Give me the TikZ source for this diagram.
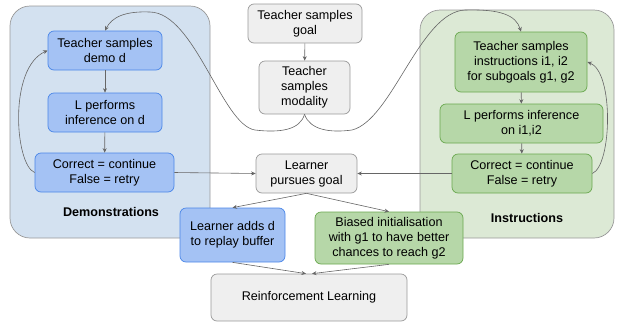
\documentclass[tikz,border=0pt]{standalone}
\usepackage{fontspec}
\setmainfont{Liberation Sans}
\usetikzlibrary{arrows.meta}

\definecolor{bleufond}{HTML}{D3E1F0}
\definecolor{bleuboite}{HTML}{A4C2F4}
\definecolor{bleubord}{HTML}{4A86E8}
\definecolor{vertfond}{HTML}{DCE9D5}
\definecolor{vertboite}{HTML}{B6D7A8}
\definecolor{vertbord}{HTML}{6AA84F}
\definecolor{grisboite}{HTML}{EFEFEF}
\definecolor{grisbord}{HTML}{999999}
\definecolor{trait}{HTML}{666666}

\tikzset{
  boite/.style={draw, rounded corners=6pt, align=center, inner sep=2pt,
    font=\fontsize{12.6}{15}\selectfont, line width=0.7pt},
  bleu/.style={boite, fill=bleuboite, draw=bleubord},
  vert/.style={boite, fill=vertboite, draw=vertbord},
  gris/.style={boite, fill=grisboite, draw=grisbord},
  groupe/.style={draw=grisbord, rounded corners=20pt, line width=0.7pt},
  titre/.style={font=\fontsize{12.6}{15}\selectfont\bfseries},
  fleche/.style={draw=trait, line width=0.6pt, -{Stealth[length=4.5pt,width=4pt]}}
}

\begin{document}
\begin{tikzpicture}[x=1pt, y=-1pt]
  \useasboundingbox (0,0) rectangle (621,322);

  % Les fonds
  \draw[groupe, fill=bleufond] (10,6) rectangle (210,238);
  \draw[groupe, fill=vertfond] (420,10) rectangle (614,238);
  \node[titre] (demos) at (111,212) {Demonstrations};
  \node[titre] (instrs) at (527,218) {Instructions};

  % Le centre
  \node[gris, minimum width=114pt, minimum height=39pt] (goal) at (305,23.5) {Teacher samples\\goal};
  \node[gris, minimum width=91pt, minimum height=53pt] (modality) at (304.5,87.5) {Teacher\\samples\\modality};
  \node[gris, minimum width=101pt, minimum height=39pt] (pursue) at (306.5,173.5) {Learner\\pursues goal};
  \node[bleu, minimum width=105pt, minimum height=54pt] (buffer) at (232.5,235) {Learner adds d\\to replay buffer};
  \node[vert, minimum width=148pt, minimum height=52pt] (biased) at (389,238) {Biased initialisation\\with g1 to have better\\chances to reach g2};
  \node[gris, minimum width=196pt, minimum height=47pt] (rl) at (309,297.5) {Reinforcement Learning};

  % Les demonstrations
  \node[bleu, minimum width=114pt, minimum height=39pt] (demo) at (105,50.5) {Teacher samples\\demo d};
  \node[bleu, minimum width=114pt, minimum height=39pt] (infd) at (105,112.5) {L performs\\inference on d};
  \node[bleu, minimum width=139pt, minimum height=39pt] (corrd) at (104.5,172.5) {Correct = continue\\False = retry};

  % Les instructions
  \node[vert, minimum width=132pt, minimum height=60pt] (instr) at (521,62) {Teacher samples\\instructions i1, i2\\for subgoals g1, g2};
  \node[vert, minimum width=163pt, minimum height=39pt] (infi) at (521.5,123.5) {L performs inference\\on i1,i2};
  \node[vert, minimum width=140pt, minimum height=39pt] (corri) at (522,173.5) {Correct = continue\\False = retry};

  % Les fleches
  \draw[fleche] (goal) -- (modality);
  \draw[fleche] (modality.south) .. controls (300,130) and (280,133) .. (255,130)
    .. controls (222,125) and (195,13) .. (150,12) .. controls (125,11) and (112,17) .. (demo.north);
  \draw[fleche] (modality.south) .. controls (310,130) and (330,133) .. (352,130)
    .. controls (392,120) and (420,12) .. (465,10) .. controls (500,9) and (516,15) .. (instr.north);
  \draw[fleche] (demo) -- (infd);
  \draw[fleche] (infd) -- (corrd);
  \draw[fleche] (corrd.west) .. controls (15,165) and (8,68) .. (demo.west);
  \draw[fleche] (instr) -- (infi);
  \draw[fleche] (infi) -- (corri);
  \draw[fleche] (corri.east) .. controls (612,165) and (614,72) .. (instr.east);
  \draw[fleche] (corrd.east) -- (pursue.west);
  \draw[fleche] (corri.west) -- (pursue.east);
  \draw[fleche] (pursue.south) -- (buffer.north);
  \draw[fleche] (pursue.south) -- (biased.north);
  \draw[fleche] (buffer.south) -- ([xshift=-3pt]rl.north);
  \draw[fleche] (biased.south) -- ([xshift=3pt]rl.north);
\end{tikzpicture}
\end{document}
